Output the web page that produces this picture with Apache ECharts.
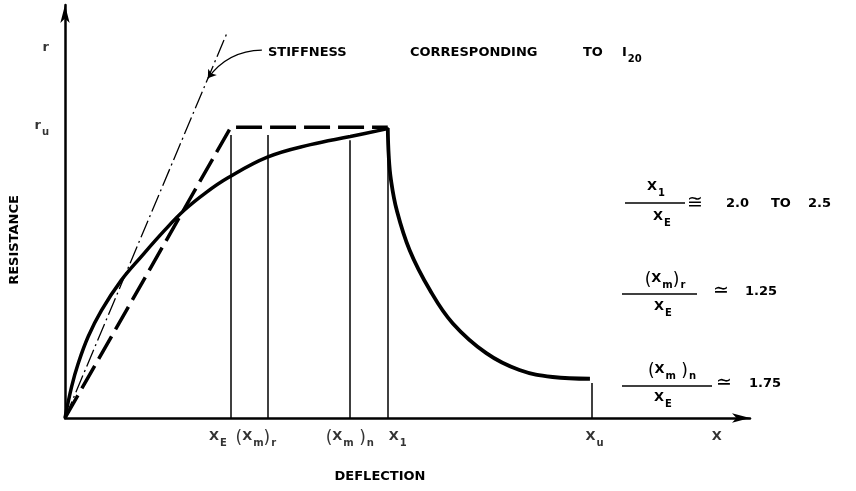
<!DOCTYPE html>
<html>
<head>
<meta charset="utf-8">
<script src="https://cdn.jsdelivr.net/npm/echarts@6/dist/echarts.min.js"></script>
<style>
	html, body { margin: 0; padding: 0; background: #fff; }
	#main { width: 856px; height: 491px; }
</style>
</head>
<body>
<div id="main"></div>
<script>
(function() {
	// deflection in units of x_E, resistance in units of r_u

	// real resistance curve (rising part, up to x_1)
	var curveX = [0, 0.04, 0.08, 0.14, 0.22, 0.34, 0.46, 0.6, 0.72, 0.85, 0.98, 1.22, 1.48, 1.72, 1.946];
	var curveR = [0, 0.108, 0.188, 0.28, 0.37, 0.474, 0.555, 0.645, 0.715, 0.775, 0.825, 0.897, 0.94, 0.968, 0.995];
	// falling part, x_1 to x_u
	var decayX = [1.946, 1.952, 1.965, 2.0, 2.078, 2.2, 2.337, 2.54, 2.74, 2.94, 3.165];
	var decayR = [0.997, 0.9, 0.82, 0.715, 0.577, 0.44, 0.326, 0.223, 0.165, 0.141, 0.135];
	// idealised bilinear (dashed)
	var bilinearX = [0, 1, 1.946];
	var bilinearR = [0, 1, 1];
	// stiffness corresponding to I_20 (dash-dot)
	var stiffX = [0, 0.976];
	var stiffR = [0, 1.323];
	// leader arrow from the note to the stiffness line
	var leaderFrom = [1.187, 1.265];
	var leaderTo = [0.861, 1.168];

	// marked deflections: x_E, (x_m)_r, (x_m)_n, x_1, x_u
	var markX = [1, 1.223, 1.717, 1.946, 3.175];
	var markTop = [0.973, 0.973, 0.955, 1, 0.12];
	var markLabels = [
		'{v|X}{s|E}',
		'{p|(}{v|X}{s|m}{p|)}{s|r}',
		'{p|(}{v|X}{s|m}{p| )}{s|n}',
		'{v|X}{s|1}',
		'{v|X}{s|u}',
		'{v|X}'
	];
	var labelX = [1, 1.223, 1.717, 1.946, 3.175, 3.93];
	var rTicks = [1.27, 1.0];
	var rLabels = ['{v|r}', '{v|r}{s|u}'];

	var FONT = '"DejaVu Sans", sans-serif';
	var INK = '#000';
	var rich = {
		v: { fontSize: 13, fontWeight: 'bold', fontFamily: FONT, color: INK, verticalAlign: 'top', lineHeight: 16 },
		p: { fontSize: 17, fontFamily: FONT, color: INK, verticalAlign: 'top', lineHeight: 16 },
		s: { fontSize: 10, fontWeight: 'bold', fontFamily: FONT, color: INK, verticalAlign: 'top', lineHeight: 16, padding: [8, 0, 0, 1] }
	};
	var labelShift = [-13, -12, 0, 10, 3, 0];

	function pairs(xs, ys) {
		return xs.map(function(x, i) { return [x, ys[i]]; });
	}

	var myChart = echarts.init(document.getElementById('main'), null, { renderer: 'canvas' });

	function txt(x, y, text, align, extra, font) {
		var el = {
			type: 'text', x: x, y: y,
			style: {
				text: text, fill: INK,
				font: (font || 'bold 13px ') + FONT,
				align: align || 'left', verticalAlign: 'middle'
			}
		};
		if (extra) { for (var k in extra) el[k] = extra[k]; }
		return el;
	}
	function rtxt(x, y, text, vAlign) {
		return { type: 'text', x: x, y: y, style: { text: text, rich: rich, fill: INK, align: 'center', verticalAlign: vAlign } };
	}
	function bar(x1, x2, y) {
		return { type: 'line', shape: { x1: x1, y1: y, x2: x2, y2: y }, style: { stroke: INK, lineWidth: 1.6 } };
	}
	var SYM = '19px ';

	var graphic = [
		txt(15, 240, 'RESISTANCE', 'center', { rotation: Math.PI / 2 }),
		txt(380, 477, 'DEFLECTION', 'center'),
		txt(268, 53, 'STIFFNESS'),
		txt(410, 53, 'CORRESPONDING'),
		txt(583, 53, 'TO'),
		{ type: 'text', x: 622, y: 46, style: { text: '{v|I}{s|20}', rich: rich, fill: INK, align: 'left', verticalAlign: 'top' } },

		// x_1 / x_E
		rtxt(656, 196, '{v|X}{s|1}', 'bottom'),
		bar(625, 685, 203),
		rtxt(662, 210, '{v|X}{s|E}', 'top'),
		txt(687, 203, '≅', 'left', null, SYM),
		txt(726, 204, '2.0'),
		txt(771, 204, 'TO'),
		txt(808, 204, '2.5'),

		// (x_m)_r / x_E
		rtxt(665, 288, '{p|(}{v|X}{s|m}{p|)}{s|r}', 'bottom'),
		bar(622, 697, 294),
		rtxt(663, 300, '{v|X}{s|E}', 'top'),
		txt(713, 291, '≃', 'left', null, SYM),
		txt(745, 292, '1.25'),

		// (x_m)_n / x_E
		rtxt(672, 379, '{p|(}{v|X}{s|m}{p| )}{s|n}', 'bottom'),
		bar(622, 712, 386),
		rtxt(663, 391, '{v|X}{s|E}', 'top'),
		txt(716, 383, '≃', 'left', null, SYM),
		txt(749, 384, '1.75')
	];

	var axisCommon = {
		type: 'value',
		axisLine: { show: true, symbol: ['none', 'arrow'], symbolSize: [7, 18], lineStyle: { color: INK, width: 2.5 } },
		axisTick: { show: false },
		axisLabel: { show: false },
		splitLine: { show: false }
	};

	var option = {
		backgroundColor: '#fff',
		animation: false,
		grid: { left: 65, right: 106, top: 5, bottom: 73, containLabel: false, outerBoundsMode: 'none' },
		xAxis: echarts.util.merge({ min: 0, max: 4.13 }, axisCommon, true),
		yAxis: echarts.util.merge({ min: 0, max: 1.42 }, axisCommon, true),
		graphic: graphic,
		series: [
			{
				name: 'stiffness I20', type: 'line', data: pairs(stiffX, stiffR),
				symbol: 'none', lineStyle: { color: INK, width: 1.3, type: [18, 4, 2, 4] }
			},
			{
				name: 'bilinear', type: 'line', data: pairs(bilinearX, bilinearR),
				symbol: 'none', lineStyle: { color: INK, width: 3.5, type: [26, 8] }
			},
			{
				name: 'resistance', type: 'line', data: pairs(curveX, curveR),
				symbol: 'none', smooth: 0.4,
				lineStyle: { color: INK, width: 3.5 }
			},
			{
				name: 'decay', type: 'line', data: pairs(decayX, decayR),
				symbol: 'none', smooth: 0.4,
				lineStyle: { color: INK, width: 3.8 }
			},
			{
				name: 'markers', type: 'lines', coordinateSystem: 'cartesian2d',
				data: markX.map(function(x, i) { return { coords: [[x, 0], [x, markTop[i]]] }; }),
				lineStyle: { color: INK, width: 1.5, opacity: 1 }
			},
			{
				name: 'leader', type: 'lines', coordinateSystem: 'cartesian2d',
				symbol: ['none', 'arrow'], symbolSize: 8,
				data: [{ coords: [leaderFrom, leaderTo] }],
				lineStyle: { color: INK, width: 1.3, curveness: -0.25, opacity: 1 }
			},
			{
				name: 'x labels', type: 'scatter', symbolSize: 0, silent: true,
				data: labelX.map(function(x, i) {
					return {
						value: [x, 0], name: markLabels[i],
						label: { show: true, color: INK, position: 'bottom', distance: 12, offset: [labelShift[i], 0], formatter: '{b}', rich: rich }
					};
				})
			},
			{
				name: 'r labels', type: 'scatter', symbolSize: 0, silent: true,
				data: rTicks.map(function(r, i) {
					return {
						value: [0, r], name: rLabels[i],
						label: { show: true, color: INK, position: 'left', distance: 16, formatter: '{b}', rich: rich }
					};
				})
			}
		]
	};
	myChart.setOption(option);
})();
</script>
</body>
</html>
